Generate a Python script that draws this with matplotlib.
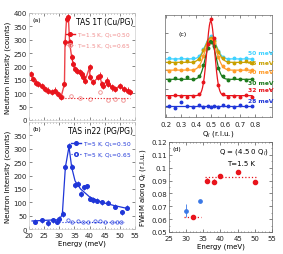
import matplotlib
matplotlib.use("Agg")
import matplotlib.pyplot as plt
import numpy as np
from matplotlib.ticker import MultipleLocator, NullFormatter

plt.rcParams["font.family"] = ["DejaVu Sans"]
plt.rcParams["font.size"] = 5

# ---- panel (a): TAS 1T, filled Q_L=0.50, open Q_L=0.65
a_e = [20.5, 21.4, 22.3, 23.1, 24.2, 25.3, 26.4, 27.5, 28.6, 29.7, 30.6, 31.7, 31.9,
       32.4, 33.0, 33.4, 34.1, 34.6, 35.2, 35.9, 36.8, 37.4, 37.9, 38.5, 40.0, 40.1,
       41.2, 42.9, 43.4, 44.0, 44.5, 45.6, 46.2, 47.3, 48.4, 50.0, 51.2, 52.8, 53.4]
a_cnt = [172, 153, 140, 135, 128, 116, 110, 104, 110, 97, 86, 135, 290,
         378, 385, 290, 234, 209, 190, 184, 178, 172, 160, 147, 197, 160,
         141, 160, 166, 135, 128, 147, 135, 122, 116, 128, 116, 110, 104]
a_open_e = [31.0, 34.0, 37.0, 40.0, 43.5, 46.0, 48.5, 51.0]
a_open_cnt = [86, 88, 83, 80, 105, 75, 80, 75]
a_open_level = 82

# ---- panel (b): TAS in22, T=5 K
b_e = [22.0, 24.2, 26.2, 28.0, 29.1, 30.0, 31.1, 32.0, 33.2, 34.1, 35.2, 36.3,
       37.2, 38.3, 39.2, 40.1, 41.2, 42.3, 44.0, 46.2, 48.4, 50.6, 52.2]
b_cnt = [28, 32, 22, 33, 28, 38, 56, 232, 310, 232, 165, 170,
         131, 156, 160, 114, 108, 106, 100, 99, 83, 62, 80]
b_guide_e = [21, 30, 31, 32, 33.2, 34.1, 35.2, 37, 40, 44, 48, 52]
b_guide_cnt = [30, 35, 55, 230, 308, 230, 180, 150, 120, 100, 88, 78]
b_open_e = [32.8, 34.1, 36.3, 37.9, 39.6, 41.8, 43.4, 45.1, 47.3, 48.9, 50.5]
b_open_cnt = [32, 28, 30, 26, 27, 30, 29, 28, 27, 26, 27]
b_open_level = 28

# ---- panel (c): Q_L scans (arbitrary offsets)
c_q = [0.22, 0.26, 0.30, 0.34, 0.38, 0.42, 0.45, 0.48, 0.50, 0.52, 0.55, 0.58,
       0.62, 0.66, 0.70, 0.74, 0.78]
c_labels = ["50 meV", "45 meV", "40 meV", "30 meV", "32 meV", "28 meV"]
c_colors = ["#3fd2ff", "#c8a000", "#ff9c2a", "#1c7a1c", "#e8141c", "#1f36d8"]
c_vals = [
    [5.8, 5.7, 5.8, 5.7, 5.8, 6.0, 6.7, 7.5, 7.9, 7.6, 6.5, 5.9, 5.7, 5.8, 5.7, 5.8, 5.7],
    [5.4, 5.3, 5.4, 5.5, 5.4, 5.7, 6.6, 7.4, 7.8, 7.5, 6.4, 5.8, 5.4, 5.3, 5.4, 5.5, 5.3],
    [4.5, 4.7, 4.6, 4.7, 4.6, 5.0, 6.0, 7.2, 7.6, 7.3, 5.9, 5.0, 4.7, 4.5, 4.6, 4.7, 4.6],
    [3.6, 3.8, 3.7, 3.9, 3.7, 4.0, 5.1, 6.8, 7.4, 7.0, 4.8, 4.0, 3.6, 3.8, 3.7, 3.6, 3.7],
    [2.0, 2.2, 2.1, 2.0, 2.1, 2.3, 3.4, 7.2, 9.6, 7.8, 3.1, 2.3, 2.0, 2.1, 2.0, 2.2, 2.0],
    [1.1, 0.9, 1.5, 1.1, 1.0, 1.2, 1.0, 1.1, 1.0, 1.1, 1.0, 1.2, 1.1, 1.0, 1.2, 1.1, 1.1],
]
# gaussian fit parameters: baseline, amplitude, fwhm (centre 0.5)
c_base = [5.7, 5.36, 4.6, 3.7, 2.1, 1.1]
c_amp = [2.15, 2.4, 3.05, 3.8, 7.3, 0.0]
c_fwhm = [0.089, 0.097, 0.093, 0.08, 0.062, 0.08]
c_label_y = [6.3, 5.36, 4.45, 3.4, 2.75, 1.67]

# ---- panel (d): FWHM vs energy
d_red_e = [32, 36, 38, 40, 45, 50]
d_red_w = [0.062, 0.090, 0.089, 0.0935, 0.097, 0.089]
d_red_err = [0.001, 0.002, 0.002, 0.0015, 0.001, 0.0015]
d_blue_e = [30, 34]
d_blue_w = [0.0665, 0.074]
d_blue_err = [0.005, 0.0005]

RED = "#e8141c"
PALE_RED = "#f08c8c"
BLUE = "#1f36d8"

fig = plt.figure(figsize=(2.83, 2.55), dpi=100)


def style_axes(ax, frame="#cfcfcf"):
    for s in ax.spines.values():
        s.set_color(frame)
        s.set_linewidth(0.5)
    ax.tick_params(which="both", direction="in", top=True, right=True,
                   colors="#555555", labelcolor="#222222", labelsize=5)
    ax.tick_params(which="major", length=2, width=0.5)
    ax.tick_params(which="minor", length=1, width=0.4)
    ax.tick_params(axis="x", pad=2.5)
    ax.tick_params(axis="y", pad=1.5)


# panel (a)
ax_a = fig.add_axes([0.1025, 0.5255, 0.3746, 0.4196])
ax_a.errorbar(a_e, a_cnt, yerr=12, fmt="o", color=RED, ms=2.6, elinewidth=0.6, capsize=0)
ax_a.plot(a_e, a_cnt, color=RED, lw=1.0, alpha=0.8)
ax_a.plot(a_open_e, a_open_cnt, "o", mfc="none", mec=PALE_RED, ms=2.6, mew=0.6)
ax_a.plot([30, 53.5], [a_open_level] * 2, ":", color=RED, lw=0.8)
ax_a.set_xlim(20, 55)
ax_a.set_ylim(0, 400)
ax_a.xaxis.set_major_locator(MultipleLocator(5))
ax_a.xaxis.set_minor_locator(MultipleLocator(1))
ax_a.yaxis.set_major_locator(MultipleLocator(50))
ax_a.xaxis.set_major_formatter(NullFormatter())
style_axes(ax_a)
ax_a.text(0.03, 0.96, "(a)", transform=ax_a.transAxes, fontsize=4.5, va="top")
ax_a.text(0.985, 0.965, "TAS 1T (Cu/PG)", transform=ax_a.transAxes, fontsize=5.5,
          ha="right", va="top")
la = ax_a.legend(
    [plt.Line2D([], [], color=RED, marker="o", ms=2.6, lw=1.0),
     plt.Line2D([], [], color=PALE_RED, marker="o", mfc="none", ms=2.6, ls=":", lw=0.8)],
    ["T=1.5 K, Q$_L$=0.50", "T=1.5 K, Q$_L$=0.65"],
    loc="upper right", bbox_to_anchor=(1.0, 0.88), frameon=False, fontsize=4.2,
    handlelength=1.6, handletextpad=0.3, labelspacing=0.4, borderpad=0.2)
for t in la.get_texts():
    t.set_color(PALE_RED)
ax_a.set_ylabel("Neutron Intensity (counts)", fontsize=5, labelpad=2)

# panel (b)
ax_b = fig.add_axes([0.1025, 0.098, 0.3746, 0.4196])
ax_b.errorbar(b_e, b_cnt, yerr=10, fmt="o", color=BLUE, ms=2.6, elinewidth=0.6, capsize=0)
ax_b.plot(b_guide_e, b_guide_cnt, color=BLUE, lw=0.9)
ax_b.plot(b_open_e, b_open_cnt, "o", mfc="none", mec="#4a5ee8", ms=2.4, mew=0.6)
ax_b.plot([30, 51.5], [b_open_level] * 2, ":", color=BLUE, lw=0.8)
ax_b.set_xlim(20, 55)
ax_b.set_ylim(0, 400)
ax_b.xaxis.set_major_locator(MultipleLocator(5))
ax_b.xaxis.set_minor_locator(MultipleLocator(1))
ax_b.set_yticks(np.arange(0, 351, 50))
style_axes(ax_b)
ax_b.set_yticks([400], minor=True)
ax_b.text(0.03, 0.96, "(b)", transform=ax_b.transAxes, fontsize=4.5, va="top")
ax_b.text(0.985, 0.965, "TAS in22 (PG/PG)", transform=ax_b.transAxes, fontsize=5.5,
          ha="right", va="top")
lb = ax_b.legend(
    [plt.Line2D([], [], color=BLUE, marker="o", ms=2.6, lw=1.0),
     plt.Line2D([], [], color=BLUE, marker="o", mfc="none", ms=2.6, ls=":", lw=0.8)],
    ["T=5 K, Q$_L$=0.50", "T=5 K, Q$_L$=0.65"],
    loc="upper right", bbox_to_anchor=(1.0, 0.88), frameon=False, fontsize=4.2,
    handlelength=1.6, handletextpad=0.3, labelspacing=0.4, borderpad=0.2)
for t in lb.get_texts():
    t.set_color(BLUE)
ax_b.set_ylabel("Neutron Intensity (counts)", fontsize=5, labelpad=2)
ax_b.set_xlabel("Energy (meV)", fontsize=5, labelpad=1)

# panel (c)
ax_c = fig.add_axes([0.583, 0.537, 0.378, 0.40])
q_fine = np.linspace(0.2, 0.78, 300)
for vals, col, b, amp, fw, lbl, ly in zip(c_vals, c_colors, c_base, c_amp, c_fwhm,
                                          c_labels, c_label_y):
    sig = fw / 2.3548
    ax_c.plot(q_fine, b + amp * np.exp(-(q_fine - 0.5) ** 2 / (2 * sig ** 2)),
              color=col, lw=0.9)
    ax_c.plot(c_q, vals, "o", color=col, ms=1.8)
    ax_c.text(0.75, ly, lbl, color=col, fontsize=4.3, fontweight="bold", va="center")
ax_c.set_xlim(0.19, 0.915)
ax_c.set_ylim(0, 10)
ax_c.xaxis.set_minor_locator(MultipleLocator(0.05))
ax_c.set_xticks([0.2, 0.3, 0.4, 0.5, 0.6, 0.7, 0.8])
ax_c.set_yticks([1, 2.8, 4.6, 6.4, 8.2])
ax_c.yaxis.set_major_formatter(NullFormatter())
style_axes(ax_c, frame="#666666")
ax_c.text(0.13, 0.8, "(c)", transform=ax_c.transAxes, fontsize=4.5)
ax_c.set_xlabel("Q$_l$ (r.l.u.)", fontsize=5, labelpad=1)

# panel (d)
ax_d = fig.add_axes([0.597, 0.0863, 0.364, 0.353])
ax_d.plot([29.5, 34.3], [0.062, 0.062], ":", color=RED, lw=0.9)
ax_d.plot([35.5, 51], [0.0925, 0.0925], ":", color=RED, lw=0.9)
ax_d.errorbar(d_red_e, d_red_w, yerr=d_red_err, fmt="o", color=RED, ms=3,
              elinewidth=0.6, capsize=0)
ax_d.errorbar(d_blue_e, d_blue_w, yerr=d_blue_err, fmt="o", color="#3a78e6", ms=2.4,
              elinewidth=0.6, capsize=0)
ax_d.set_xlim(25, 55)
ax_d.set_ylim(0.05, 0.12)
ax_d.xaxis.set_major_locator(MultipleLocator(5))
ax_d.xaxis.set_minor_locator(MultipleLocator(1))
ax_d.yaxis.set_minor_locator(MultipleLocator(0.005))
ax_d.set_yticks([0.05, 0.06, 0.07, 0.08, 0.09, 0.1, 0.11, 0.12])
ax_d.set_yticklabels(["0.05", "0.06", "0.07", "0.08", "0.09", "0.1", "0.11", "0.12"])
style_axes(ax_d, frame="#666666")
ax_d.text(0.03, 0.96, "(d)", transform=ax_d.transAxes, fontsize=4.5, va="top")
ax_d.text(0.97, 0.9, "Q = (4.5 0 Q$_l$)", transform=ax_d.transAxes, fontsize=5,
          ha="right", va="center")
ax_d.text(0.835, 0.77, "T=1.5 K", transform=ax_d.transAxes, fontsize=5,
          ha="right", va="center")
ax_d.set_xlabel("Energy (meV)", fontsize=5, labelpad=1)
ax_d.set_ylabel("FWHM along Q$_l$ (r.l.u.)", fontsize=5, labelpad=2)

fig.savefig("out.png", dpi=100)
